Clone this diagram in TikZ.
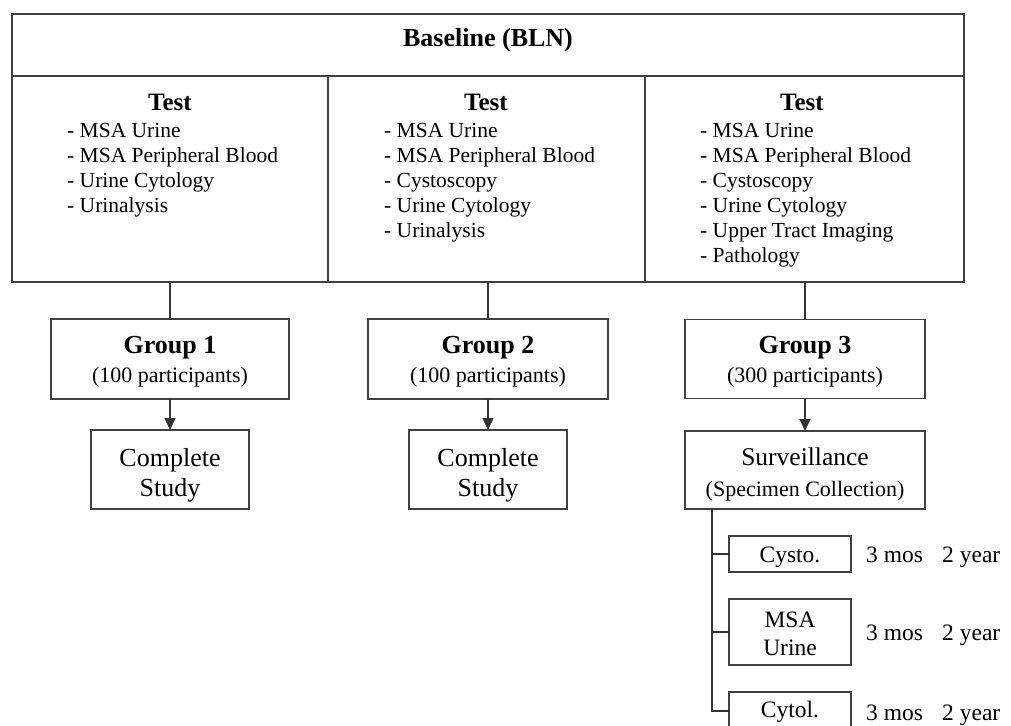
\documentclass[tikz,border=0pt]{standalone}
\usepackage{fontspec}
\setmainfont{Liberation Serif}
\usetikzlibrary{arrows.meta}
\newcommand\tfsz[1]{\fontsize{#1}{#1}\selectfont}
\begin{document}
\begin{tikzpicture}[x=1pt,y=-1pt,
  box/.style={draw=black!75,line width=1.3pt,inner sep=0pt,outer sep=0pt},
  conn/.style={draw=black!80,line width=1.3pt},
  arr/.style={conn,-{Triangle[length=12pt,width=11pt]}},
  ttl/.style={font=\bfseries\tfsz{25},inner sep=0pt,anchor=base},
  lst/.style={font=\tfsz{21.5},inner sep=0pt,anchor=base west},
  grp/.style={font=\bfseries\tfsz{26},inner sep=0pt,anchor=base},
  sub/.style={font=\tfsz{22},inner sep=0pt,anchor=base},
  big/.style={font=\tfsz{26},inner sep=0pt,anchor=base},
  sml/.style={font=\tfsz{23.5},inner sep=0pt,anchor=base},
  tim/.style={font=\tfsz{23.5},inner sep=0pt,anchor=base west}]
\useasboundingbox (0,0) rectangle (1011,725);
\clip (0,0) rectangle (1011,725);

% Top table
\node[box,minimum width=952pt,minimum height=62pt] (bln) at (488,45) {};
\node[ttl,font=\bfseries\tfsz{26}] (blnt) at (488,47) {Baseline (BLN)};
\node[box,minimum width=316pt,minimum height=206pt] (c1) at (170,179) {};
\node[box,minimum width=317pt,minimum height=206pt] (c2) at (486.5,179) {};
\node[box,minimum width=319pt,minimum height=206pt] (c3) at (804.5,179) {};

\node[ttl] (c1t) at (170,110) {Test};
\node[ttl] (c2t) at (486,110) {Test};
\node[ttl] (c3t) at (802,110) {Test};

\foreach \t [count=\i from 0] in {- MSA Urine,- MSA Peripheral Blood,- Urine Cytology,- Urinalysis}
  \node[lst] (c1l\i) at (67,137+25*\i) {\t};
\foreach \t [count=\i from 0] in {- MSA Urine,- MSA Peripheral Blood,- Cystoscopy,- Urine Cytology,- Urinalysis}
  \node[lst] (c2l\i) at (384,137+25*\i) {\t};
\foreach \t [count=\i from 0] in {- MSA Urine,- MSA Peripheral Blood,- Cystoscopy,- Urine Cytology,- Upper Tract Imaging,- Pathology}
  \node[lst] (c3l\i) at (700,137+25*\i) {\t};

% Groups
\node[box,minimum width=238pt,minimum height=80pt] (g1) at (170,359) {};
\node[box,minimum width=240pt,minimum height=80pt] (g2) at (488,359) {};
\node[box,minimum width=240pt,minimum height=79pt] (g3) at (805,359) {};
\node[grp] (g1a) at (170,353) {Group 1};
\node[sub] (g1b) at (170,382) {(100 participants)};
\node[grp] (g2a) at (488,353) {Group 2};
\node[sub] (g2b) at (488,382) {(100 participants)};
\node[grp] (g3a) at (805,353) {Group 3};
\node[sub] (g3b) at (805,382) {(300 participants)};

% Outcomes
\node[box,minimum width=158pt,minimum height=79pt] (cs1) at (170,469.5) {};
\node[big] (cs1a) at (170,466) {Complete};
\node[big] (cs1b) at (170,496) {Study};
\node[box,minimum width=158pt,minimum height=79pt] (cs2) at (488,469.5) {};
\node[big] (cs2a) at (488,466) {Complete};
\node[big] (cs2b) at (488,496) {Study};
\node[box,minimum width=240pt,minimum height=78pt] (sv) at (805,470) {};
\node[big,font=\tfsz{25.5}] (sva) at (805,465) {Surveillance};
\node[sub] (svb) at (805,496) {(Specimen Collection)};

% Specimen boxes
\node[box,line width=1.1pt,minimum width=122pt,minimum height=36pt] (k1) at (790,554) {};
\node[sml] (k1t) at (790,562) {Cysto.};
\node[box,line width=1.1pt,minimum width=122pt,minimum height=66pt] (k2) at (790,632) {};
\node[sml] (k2a) at (790,627.5) {MSA};
\node[sml] (k2b) at (790,655.5) {Urine};
\node[box,line width=1.1pt,minimum width=122pt,minimum height=38pt] (k3) at (790,711) {};
\node[sml] (k3t) at (790,717) {Cytol.};

\node[tim] (m1) at (866,562.5) {3 mos};
\node[tim] (y1) at (942,562.5) {2 year};
\node[tim] (m2) at (866,640.5) {3 mos};
\node[tim] (y2) at (942,640.5) {2 year};
\node[tim] (m3) at (866,720.5) {3 mos};
\node[tim] (y3) at (942,720.5) {2 year};

% Connectors
\draw[conn] (g1.north |- c1.south) -- (g1.north);
\draw[conn] (g2.north |- c2.south) -- (g2.north);
\draw[conn] (g3.north |- c3.south) -- (g3.north);
\draw[arr] (g1.south) -- (cs1.north);
\draw[arr] (g2.south) -- (cs2.north);
\draw[arr] (g3.south) -- (sv.north);
\coordinate (br) at (712,0);
\draw[conn] (sv.south -| br) |- (k3.west);
\draw[conn] (br |- k1.west) -- (k1.west);
\draw[conn] (br |- k2.west) -- (k2.west);
\end{tikzpicture}
\end{document}
